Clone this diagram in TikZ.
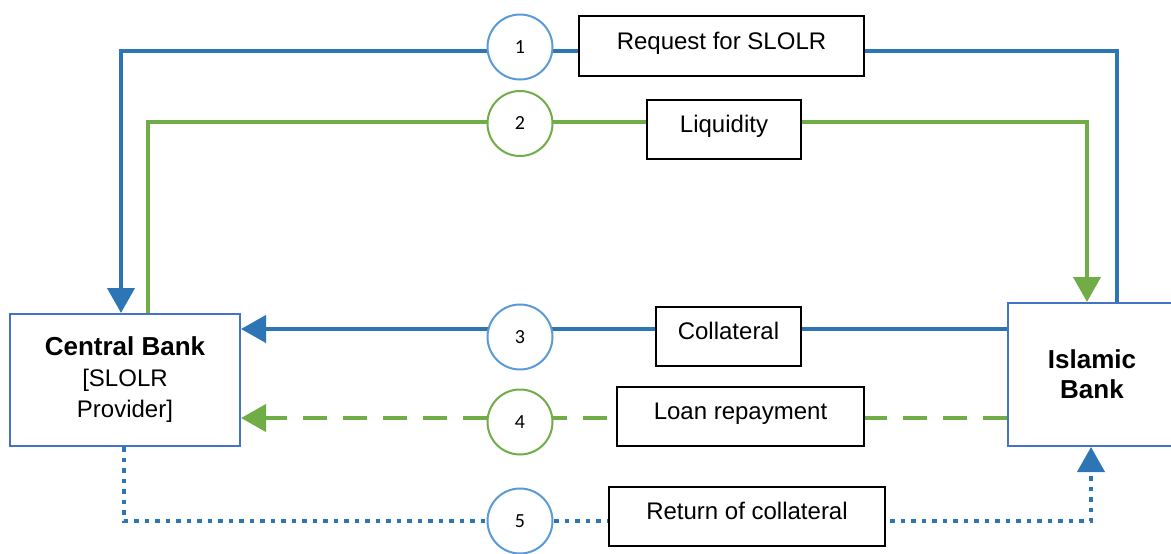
\documentclass[tikz,border=0pt]{standalone}
\usepackage{fontspec}
\setmainfont{Liberation Sans}
\newfontfamily\numfont{Carlito}
\usetikzlibrary{arrows.meta,calc}
\definecolor{lineblue}{HTML}{2E75B6}
\definecolor{circblue}{HTML}{5B9BD5}
\definecolor{boxblue}{HTML}{4472C4}
\definecolor{lgreen}{HTML}{70AD47}
\begin{document}
\begin{tikzpicture}[x=1pt,y=-1pt,
  bank/.style={draw=boxblue, line width=2pt, fill=white, align=center, inner sep=0pt},
  num/.style={circle, draw, line width=2pt, fill=white, minimum size=65pt, inner sep=0pt, font=\numfont\fontsize{20}{22}\selectfont},
  lab/.style={draw=black, line width=1.8pt, fill=white, inner sep=0pt, text height=17pt, text depth=11pt, font=\fontsize{24}{28}\selectfont},
  flow/.style={line width=4pt},
  tip/.style={-{Triangle[length=25pt,width=27pt]}}]
\useasboundingbox (0,0) rectangle (1171,554);
% main boxes
\node[bank, minimum width=230pt, minimum height=132pt, font=\fontsize{24}{31}\selectfont] (cb) at (125,380)
  {{\fontsize{26}{31}\selectfont\bfseries Central Bank}\\{[}SLOLR\\Provider{]}};
\node[bank, minimum width=168pt, minimum height=143pt, font=\fontsize{26}{30}\selectfont\bfseries] (ib) at (1092,374.5)
  {Islamic\\Bank};
% turning points
\coordinate (t1) at (520,51);
\coordinate (t2) at (520,122);
\coordinate (t5) at (520,521);
% connectors
\draw[flow, lineblue, tip] ($(ib.north west)+(110,0)$) |- (t1) -| ($(cb.north west)+(112,0)$);
\draw[flow, lgreen, tip] ($(cb.north west)+(139,0)$) |- (t2) -| ($(ib.north west)+(80,0)$);
\draw[flow, lineblue, tip] ($(ib.north west)+(0,27)$) -- ($(cb.north east)+(0,16)$);
\draw[flow, lgreen, dash pattern=on 24pt off 16pt, tip] ($(ib.north west)+(0,116)$) -- ($(cb.north east)+(0,105)$);
\draw[flow, lineblue, dash pattern=on 4.5pt off 6pt, tip] ($(cb.south west)+(115,0)$) |- (t5) -| ($(ib.south west)+(84,0)$);
% step circles
\node[num, draw=circblue] (n1) at (520,47) {1};
\node[num, draw=lgreen] (n2) at (520,123.5) {2};
\node[num, draw=circblue] (n3) at (520,337) {3};
\node[num, draw=lgreen] (n4) at (520,422) {4};
\node[num, draw=circblue] (n5) at (520,521) {5};
% labels
\node[lab, minimum width=285pt, minimum height=60pt] (l1) at (721.5,46) {Request for SLOLR};
\node[lab, minimum width=154pt, minimum height=59pt] (l2) at (724,129.5) {Liquidity};
\node[lab, minimum width=145pt, minimum height=59pt] (l3) at (728.5,336.5) {Collateral};
\node[lab, minimum width=247pt, minimum height=59pt] (l4) at (740.5,416.5) {Loan repayment};
\node[lab, minimum width=276pt, minimum height=59pt] (l5) at (747,516.5) {Return of collateral};
\end{tikzpicture}
\end{document}
